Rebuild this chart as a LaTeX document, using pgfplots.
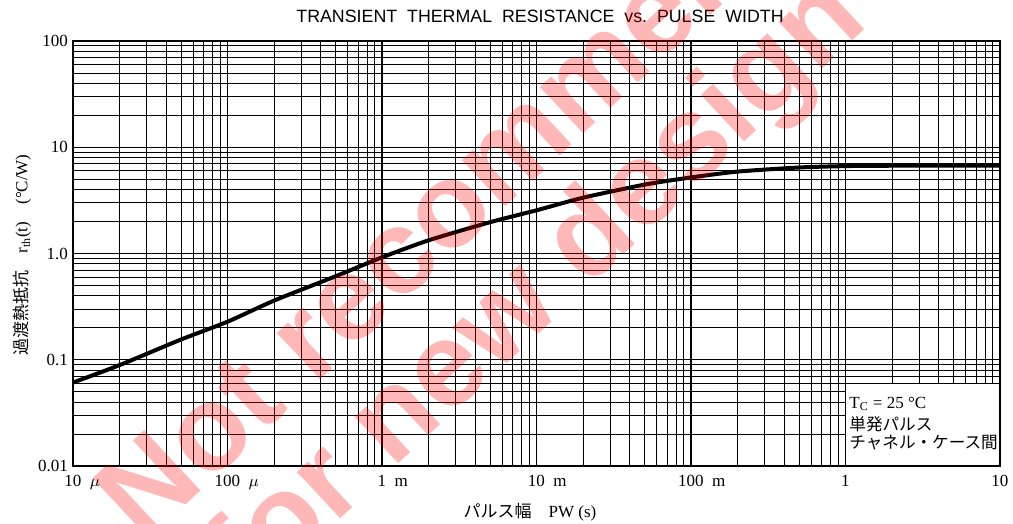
\documentclass[border=0pt]{standalone}
\usepackage{fontspec}
\setmainfont{Liberation Serif}
\newfontfamily\jp{Noto Sans CJK JP}
\newfontfamily\hv{Liberation Sans}
\newfontfamily\hvb{Liberation Sans Bold}
\usepackage{pgfplots}
\pgfplotsset{compat=1.18}

% transient thermal resistance
\pgfplotstableread{
pw      rth
1e-5    0.061
2e-5    0.089
5e-5    0.155
1e-4    0.228
2e-4    0.36
5e-4    0.61
1e-3    0.92
2e-3    1.33
5e-3    1.97
1e-2    2.55
2e-2    3.35
5e-2    4.45
1e-1    5.2
2e-1    5.9
5e-1    6.45
1       6.65
2       6.7
10      6.7
}\rthdata

\begin{document}
\begin{tikzpicture}
\useasboundingbox (-36.5pt,-29pt) rectangle (470pt,233pt);
\begin{axis}[
  xmode=log, ymode=log,
  scale only axis, width=463.5pt, height=212.5pt,
  xmin=1e-5, xmax=10, ymin=0.01, ymax=100,
  grid=both,
  major grid style={black, line width=0.5pt},
  minor grid style={black, line width=0.45pt},
  axis line style={line width=1pt},
  major tick length=0pt, minor tick length=0pt,
  xtick={1e-5,1e-4,1e-3,1e-2,1e-1,1,10},
  xticklabels={10\rlap{\ \ $\mu$},100\rlap{\ \ $\mu$},1\rlap{\ \ m},10\rlap{\ \ m},100\rlap{\ \ m},1,10},
  ytick={0.01,0.1,1,10,100},
  yticklabels={0.01,0.1,1.0,10,100},
  tick label style={font=\fontsize{8.5}{10}\selectfont},
  xticklabel style={yshift=-1pt},
  yticklabel style={xshift=1pt},
  clip=false,
]
\addplot[black, line width=2pt, smooth, tension=0.4] table[x=pw, y=rth] {\rthdata};
% condition box, bottom right
\fill[white] (axis cs:1,0.01) rectangle (axis cs:10,0.06);
\draw[line width=0.6pt] (axis cs:1,0.01) |- (axis cs:10,0.06);
\draw[line width=1pt] (axis cs:1,0.01) -- (axis cs:10,0.01) -- (axis cs:10,0.06);
\end{axis}

\node[anchor=west, inner sep=0pt, font=\fontsize{8.5}{10}\selectfont] at (388pt,31pt) {T\textsubscript{C} = 25 °C};
\node[anchor=west, inner sep=0pt, font=\fontsize{8.3}{10}\selectfont\jp] at (388pt,21pt) {単発パルス};
\node[anchor=west, inner sep=0pt, font=\fontsize{8.3}{10}\selectfont\jp] at (388pt,11.5pt) {チャネル・ケース間};

\node[font=\fontsize{8.9}{10}\selectfont\hv] at (233.5pt,225pt)
  {TRANSIENT\ \ THERMAL\ \ RESISTANCE\ \ vs.\ \ PULSE\ \ WIDTH};
\node[font=\fontsize{8.5}{10}\selectfont] at (228.5pt,-23pt)
  {{\jp パルス幅}\quad PW (s)};
\node[rotate=90, font=\fontsize{8.5}{10}\selectfont] at (-25.5pt,105.5pt)
  {{\jp 過渡熱抵抗}\quad r\textsubscript{th}(t)\quad (°C/W)};

% watermark
\node[rotate=43, anchor=base, text=red, text opacity=0.28, font=\fontsize{60}{60}\selectfont\hvb]
  at (228pt,140.5pt) {Not recommended};
\node[rotate=43, anchor=base, text=red, text opacity=0.28, font=\fontsize{60}{60}\selectfont\hvb]
  at (244pt,76.5pt) {for new design};
\end{tikzpicture}
\end{document}
